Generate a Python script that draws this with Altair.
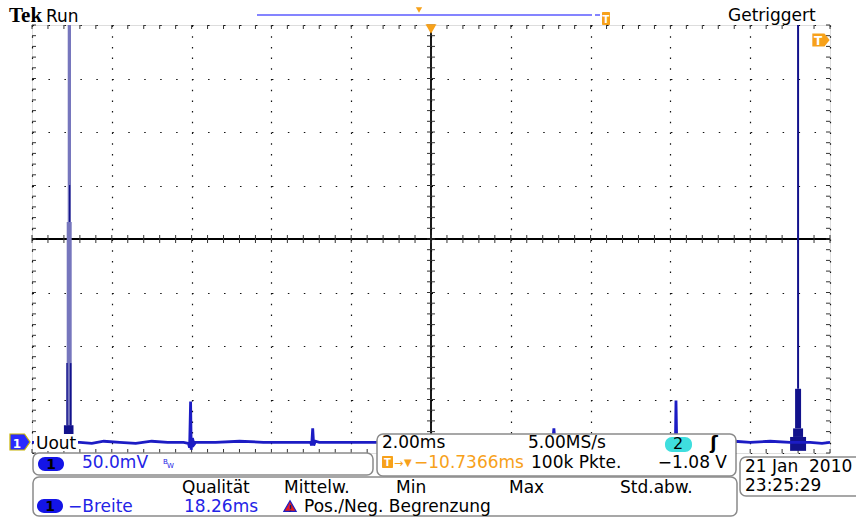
import altair as alt
import numpy as np
import pandas as pd

# ---- acquisition: channel 1, 2.00 ms/div x 10 div, 50.0 mV/div x 8 div ----
T_SPAN = 20.0
MV_LO, MV_HI = -200, 200

trace_t = [0.00, 1.20, 1.50, 1.80, 2.20, 2.60, 3.00, 3.40, 3.80, 3.92, 3.95, 3.975,
           3.99, 4.02, 4.06, 4.10, 4.60, 5.20, 5.80, 6.40, 6.98, 7.01, 7.035, 7.06,
           7.10, 7.20, 8.00, 9.00, 10.00, 11.00, 12.00, 13.05, 13.08, 13.11, 13.15,
           14.00, 15.00, 16.10, 16.125, 16.14, 16.16, 16.19, 16.25, 17.00, 17.60,
           18.00, 18.50, 19.00, 19.50, 19.80, 20.00]
trace_mv = [-190, -190, -191, -189, -190, -191, -189, -190, -190, -191, -195, -152,
            -197, -186, -192, -190, -190, -189, -190, -190, -190, -193, -177, -193,
            -189, -190, -190, -190, -190, -190, -190, -190, -177, -192, -190,
            -190, -190, -190, -194, -151, -195, -189, -190, -190, -189,
            -190, -189, -190, -190, -191, -190]

# pulse bursts that overrange the screen (start ms, end ms, low mV, high mV, intensity)
burst_t0 = [0.895, 0.870, 0.928, 0.860, 0.950, 0.800, 19.175, 19.125, 19.075, 19.000]
burst_t1 = [0.977, 0.995, 0.958, 0.895, 0.990, 1.040, 19.225, 19.275, 19.325, 19.400]
burst_lo = [15.9, -188, 15.9, -174, -174, -188, -140, -177, -185, -198]
burst_hi = [230, 15.9, 50.5, -116, -116, -174, 230, -140, -177, -185]
burst_shade = ["pale", "pale", "dark", "dark", "dark", "dark", "dark", "dark", "dark", "dark"]

# ---- screen layout ----
W, H = 798, 428
LEFT, TOP = 32, 25
FONT = "DejaVu Sans"
FS = 17
BLUE_TXT = "#2323e6"
ORANGE = "#f7a11a"
TRACE = "#1c1cc4"

trace_df = pd.DataFrame({"t": trace_t, "mv": trace_mv})
burst_df = pd.DataFrame({"t0": burst_t0, "t1": burst_t1, "lo": burst_lo,
                         "hi": burst_hi, "shade": burst_shade})
ONE = pd.DataFrame({"k": [0]})

xscale = alt.Scale(domain=[0, T_SPAN], nice=False, zero=False)
yscale = alt.Scale(domain=[MV_LO, MV_HI], nice=False, zero=False)
xaxis = alt.Axis(values=list(range(0, 21, 2)), grid=True, gridDash=[1.5, 9.2],
                 gridColor="#111111", gridWidth=1.2, labels=False, ticks=False,
                 domain=False, title=None)
yaxis = alt.Axis(values=list(range(-200, 201, 50)), grid=True, gridDash=[1.5, 14.46],
                 gridColor="#111111", gridWidth=1.2, labels=False, ticks=False,
                 domain=False, title=None)


def px(x):
    return x - LEFT


def py(y):
    return y - TOP


def text(s, x, y, size=FS, color="black", weight="normal", font=FONT, align="left"):
    return alt.Chart(ONE).mark_text(
        text=s, fontSize=size, color=color, fontWeight=weight, font=font,
        align=align, baseline="alphabetic"
    ).encode(x=alt.value(px(x)), y=alt.value(py(y)))


def box(x0, x1, y0, y1, fill="white", stroke=None, sw=1.5, r=0):
    kw = dict(fill=fill, cornerRadius=r)
    if stroke:
        kw.update(stroke=stroke, strokeWidth=sw)
    return alt.Chart(ONE).mark_rect(**kw).encode(
        x=alt.value(px(x0)), x2=alt.value(px(x1)),
        y=alt.value(py(y0)), y2=alt.value(py(y1)))


def seg(x0, x1, y0, y1, color, width=1.0):
    return alt.Chart(ONE).mark_rule(color=color, strokeWidth=width).encode(
        x=alt.value(px(x0)), x2=alt.value(px(x1)),
        y=alt.value(py(y0)), y2=alt.value(py(y1)))


def sym(shape, x, y, size, fill, stroke=None, sw=1.0):
    kw = dict(shape=shape, size=size, filled=True, fill=fill, opacity=1)
    if stroke:
        kw.update(stroke=stroke, strokeWidth=sw)
    return alt.Chart(ONE).mark_point(**kw).encode(x=alt.value(px(x)), y=alt.value(py(y)))


layers = []

# graticule: dotted grid through the axes, solid centre cross
layers.append(alt.Chart(trace_df).mark_line(opacity=0).encode(
    x=alt.X("t:Q", scale=xscale, axis=xaxis),
    y=alt.Y("mv:Q", scale=yscale, axis=yaxis)))
layers.append(alt.Chart(pd.DataFrame({"t": [T_SPAN / 2]})).mark_rule(
    color="black", strokeWidth=1.8).encode(x=alt.X("t:Q", scale=xscale)))
layers.append(alt.Chart(pd.DataFrame({"mv": [0]})).mark_rule(
    color="black", strokeWidth=1.8).encode(y=alt.Y("mv:Q", scale=yscale)))

# minor-division tick marks on the centre cross and on the frame
minor_t = pd.DataFrame({"t": np.round(np.arange(0, T_SPAN + 0.001, 0.4), 3)})
minor_v = pd.DataFrame({"mv": np.arange(MV_LO, MV_HI + 0.1, 10)})
for a, b in [(H / 2 - 4, H / 2 + 4), (0, 4), (H - 4, H)]:
    layers.append(alt.Chart(minor_t).mark_rule(color="#333333", strokeWidth=1).encode(
        x=alt.X("t:Q", scale=xscale), y=alt.value(a), y2=alt.value(b)))
for a, b in [(W / 2 - 4, W / 2 + 4), (0, 4), (W - 4, W)]:
    layers.append(alt.Chart(minor_v).mark_rule(color="#333333", strokeWidth=1).encode(
        y=alt.Y("mv:Q", scale=yscale), x=alt.value(a), x2=alt.value(b)))

# waveform
layers.append(alt.Chart(burst_df).mark_rect(clip=True).encode(
    x=alt.X("t0:Q", scale=xscale), x2="t1:Q",
    y=alt.Y("lo:Q", scale=yscale), y2="hi:Q",
    color=alt.Color("shade:N", scale=alt.Scale(domain=["pale", "dark"],
                                               range=["#7676bd", "#12128c"]), legend=None)))
layers.append(alt.Chart(trace_df).mark_line(clip=True, color=TRACE, strokeWidth=2.8).encode(
    x=alt.X("t:Q", scale=xscale), y=alt.Y("mv:Q", scale=yscale), order="t:Q"))

# header
layers += [
    text("Tek", 9, 22, size=21, weight="bold", font="Liberation Serif"),
    text("Run", 46, 22),
    text("Getriggert", 728, 21),
    seg(257, 592, 15, 15, "#8484ff", 2),
    seg(595, 600, 15, 15, "#8484ff", 2),
    box(602, 610, 12, 25, fill=ORANGE, r=1),
    text("T", 606, 23, size=10, color="white", weight="bold", align="center"),
    sym("triangle-down", 419, 10, 40, ORANGE),
    sym("triangle-down", 431, 29, 120, ORANGE),
    sym("M-1,-0.75L0.4,-0.75L1,0L0.4,0.75L-1,0.75Z", 821, 40, 300, ORANGE),
    text("T", 818, 45, size=12, color="white", weight="bold", align="center"),
]

# channel label
layers += [
    box(34, 78, 434, 451, fill="white"),
    text("Uout", 36, 449),
    sym("M-1,-0.8L0.45,-0.8L1,0L0.45,0.8L-1,0.8Z", 20, 442, 400, "#2a2aff", stroke="#c8b400", sw=1.2),
    text("1", 17, 448, size=12, color="white", weight="bold", align="center"),
]

# vertical setup panel
layers += [
    box(33, 373, 453, 475, stroke="#8a8a8a", r=6),
    box(38, 64, 457, 471, fill="#1414e6", r=7),
    text("1", 51, 469, size=14, color="black", weight="bold", align="center"),
    text("50.0mV", 82, 468, color=BLUE_TXT),
    text("B", 163, 464, size=7, color=BLUE_TXT),
    text("W", 167, 468, size=7, color=BLUE_TXT),
]

# timebase / trigger panel
layers += [
    box(377, 736, 434, 476, stroke="#8a8a8a", r=6),
    text("2.00ms", 382, 448),
    text("5.00MS/s", 528, 448),
    box(665, 692, 437, 452, fill="#3fdede", r=7),
    text("2", 678, 449, size=16, align="center"),
    text("\u0283", 714, 449, size=18, weight="bold", align="center"),
    box(382, 393, 456, 468, fill=ORANGE, r=1),
    text("T", 387.5, 466, size=10, color="white", weight="bold", align="center"),
    text("\u2192", 394, 467, size=11, color=ORANGE),
    text("\u25bc", 404, 466, size=10, color=ORANGE),
    text("\u221210.7366ms", 414, 468, color=ORANGE),
    text("100k Pkte.", 531, 468),
    text("\u22121.08 V", 727, 468, align="right"),
]

# date panel
layers += [
    box(740, 862, 457, 496, stroke="#8a8a8a", r=6),
    text("21 Jan\u00a0\u00a02010", 745, 472),
    text("23:25:29", 745, 491),
]

# measurement panel
layers += [
    box(33, 737, 477, 516, stroke="#8a8a8a", r=6),
    text("Qualit\u00e4t", 182, 493),
    text("Mittelw.", 284, 493),
    text("Min", 396, 493),
    text("Max", 509, 493),
    text("Std.abw.", 620, 493),
    box(37, 63, 499, 513, fill="#1414e6", r=7),
    text("1", 50, 511, size=14, color="black", weight="bold", align="center"),
    text("\u2212Breite", 68, 512, color=BLUE_TXT),
    text("18.26ms", 184, 512, color=BLUE_TXT),
    sym("triangle-up", 290, 506, 150, "#e21b1b", stroke="#2020c0", sw=1.2),
    text("!", 290, 512, size=9, color="#1a1a90", weight="bold", align="center"),
    text("Pos./Neg. Begrenzung", 304, 512),
]

chart = alt.layer(*layers).properties(
    width=W, height=H,
    padding={"left": LEFT, "top": TOP, "right": 856 - LEFT - W, "bottom": 517 - TOP - H},
    autosize="none",
).configure_view(stroke="black", strokeWidth=1.5).configure(background="white")

chart.save("out.html", embed_options={"renderer": "svg", "actions": False})
